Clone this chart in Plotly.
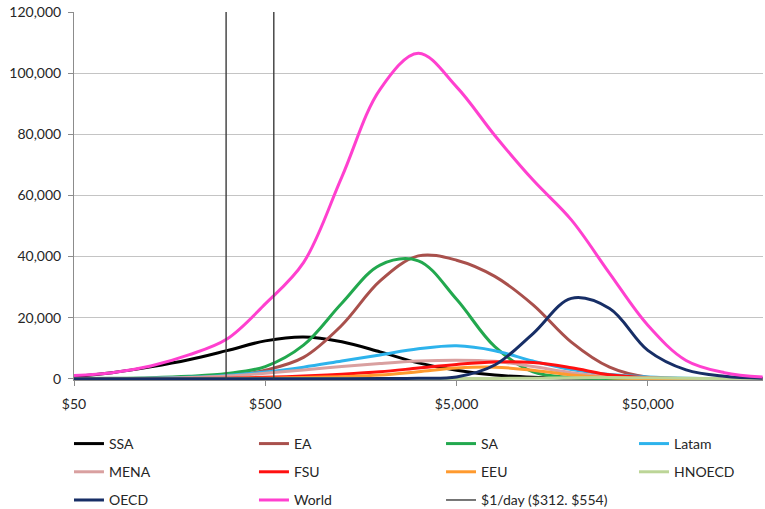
import math
import plotly.graph_objects as go

# Income levels (log-spaced, 0.2 decade apart)
income = [50, 79, 126, 199, 315, 500, 792, 1256, 1991, 3155, 5000, 7924,
          12559, 19905, 31548, 50000, 79245, 125594, 199054]

ssa = [700, 2000, 3900, 6200, 9200, 12400, 13700, 12100, 8800, 5200, 2800, 1200,
       500, 250, 120, 60, 30, 20, 10]
ea = [0, 20, 100, 300, 900, 2800, 7000, 17500, 32000, 40200, 38800, 33500,
      24200, 12000, 3800, 500, 100, 30, 10]
sa = [50, 150, 350, 800, 1700, 4000, 11000, 24700, 37200, 38600, 26000, 10500,
      2300, 400, 100, 30, 10, 0, 0]
latam = [0, 50, 200, 500, 1100, 2200, 3800, 5800, 7800, 9800, 10800, 9200,
         5800, 3000, 1400, 600, 200, 60, 20]
mena = [0, 50, 150, 400, 900, 1800, 2900, 4000, 5000, 5800, 6100, 5700,
        4000, 2000, 700, 200, 50, 10, 0]
fsu = [0, 10, 30, 80, 200, 500, 900, 1500, 2300, 3500, 4700, 5500,
       5300, 3600, 1300, 350, 80, 20, 0]
eeu = [0, 0, 20, 40, 80, 200, 400, 700, 1200, 2300, 3500, 3800,
       2800, 1200, 300, 60, 10, 0, 0]
hnoecd = [0, 0, 0, 0, 0, 0, 10, 20, 30, 50, 80, 120,
          200, 330, 400, 300, 150, 50, 10]
oecd = [0, 0, 0, 0, 0, 0, 0, 20, 50, 150, 600, 4500,
        14800, 26300, 23000, 9300, 2900, 800, 200]
world = [1100, 2000, 4200, 7800, 13000, 24500, 38000, 66000, 94700, 106500, 95500, 79600,
         65000, 52000, 34500, 17500, 6000, 2000, 600]

poverty_lines = [312, 554]
y_max = 120000

x_tickvals = [50, 500, 5000, 50000]
x_ticktext = ["$50", "$500", "$5,000", "$50,000"]
y_tickvals = [0, 20000, 40000, 60000, 80000, 100000, 120000]

# name, values, colour, legend column
series = [
    ("SSA", ssa, "#000000", "legend"),
    ("EA", ea, "#A9504C", "legend2"),
    ("SA", sa, "#22A84E", "legend3"),
    ("Latam", latam, "#2DB3EC", "legend4"),
    ("MENA", mena, "#D9A0A0", "legend"),
    ("FSU", fsu, "#FF1010", "legend2"),
    ("EEU", eeu, "#FF9A2E", "legend3"),
    ("HNOECD", hnoecd, "#BCD597", "legend4"),
    ("OECD", oecd, "#172E66", "legend"),
    ("World", world, "#FF40CF", "legend2"),
]

fig = go.Figure()
for name, vals, color, leg in series:
    fig.add_trace(go.Scatter(
        x=income, y=vals, name=name, mode="lines",
        line=dict(color=color, width=3, shape="spline", smoothing=1.0),
        legend=leg, legendgroup=name,
    ))

vx, vy = [], []
for p in poverty_lines:
    vx += [p, p, None]
    vy += [0, y_max, None]
fig.add_trace(go.Scatter(
    x=vx, y=vy, name="$1/day ($312. $554)", mode="lines",
    line=dict(color="#3C3C3C", width=1.4), legend="legend3", legendgroup="pov",
))

font_family = "Lato, Open Sans, sans-serif"
text_color = "#262626"

leg_common = dict(
    orientation="v", xanchor="left", yanchor="top", y=-0.1304,
    font=dict(family=font_family, size=14, color=text_color),
    bgcolor="rgba(0,0,0,0)", traceorder="grouped", tracegroupgap=7,
    itemwidth=30,
)

fig.update_layout(
    width=765, height=509,
    margin=dict(l=74, r=2, t=12, b=129, autoexpand=False),
    paper_bgcolor="white", plot_bgcolor="white",
    font=dict(family=font_family, size=14, color=text_color),
    showlegend=True,
    legend=dict(**leg_common, x=-0.0073),
    legend2=dict(**leg_common, x=0.2612),
    legend3=dict(**leg_common, x=0.5327),
    legend4=dict(**leg_common, x=0.8128),
    xaxis=dict(
        type="log", range=[math.log10(50), math.log10(200000)],
        tickvals=x_tickvals, ticktext=x_ticktext,
        showgrid=False, zeroline=False,
        showline=True, linecolor="#8C8C8C", linewidth=1,
        ticks="outside", ticklen=5, tickcolor="#8C8C8C",
        ticklabelstandoff=6,
        tickfont=dict(family=font_family, size=14, color=text_color),
    ),
    yaxis=dict(
        range=[-400, y_max], tickvals=y_tickvals, tickformat=",",
        showgrid=True, gridcolor="#C4C4C4", gridwidth=1,
        zeroline=False,
        showline=True, linecolor="#8C8C8C", linewidth=1,
        ticks="outside", ticklen=5, tickcolor="#8C8C8C",
        ticklabelstandoff=4, ticklabeloverflow="allow",
        tickfont=dict(family=font_family, size=14, color=text_color),
    ),
)

# remove the default 8px page margin so the figure fills the window exactly
fig.write_html("out.html", config={"displayModeBar": False},
               post_script="document.body.style.margin='0px';")
